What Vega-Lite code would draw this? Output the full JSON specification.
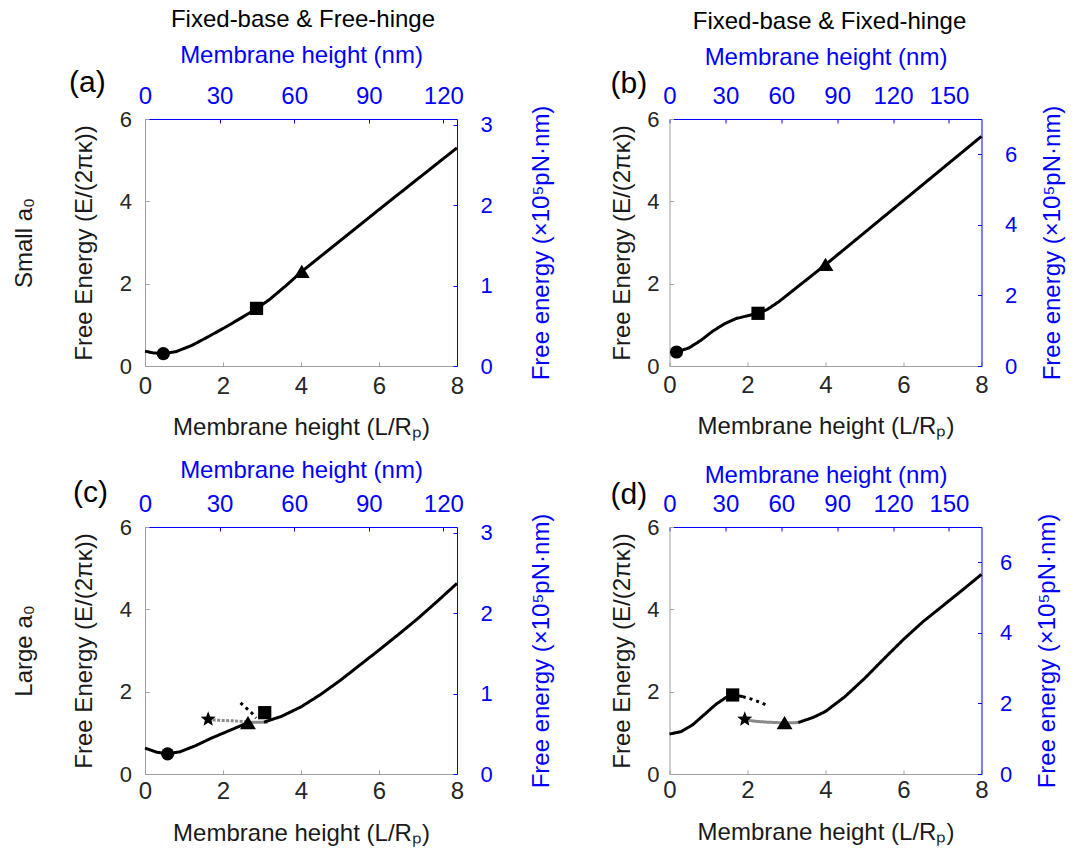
{
  "$schema": "https://vega.github.io/schema/vega-lite/v6.json",
  "padding": {"left": 12, "top": 8, "right": 2, "bottom": 2},
  "background": "white",
  "config": {
    "view": {"stroke": null},
    "font": "Liberation Sans",
    "axis": {"grid": false, "labelFont": "Liberation Sans", "titleFont": "Liberation Sans", "labelFlush": false, "labelOverlap": false, "titleFontWeight": "normal", "domainWidth": 1, "tickWidth": 1},
    "title": {"font": "Liberation Sans", "fontWeight": "normal", "color": "#000000"}
  },
  "datasets": {
    "curves": [
      {"panel":"a","seg":"a1","style":"solid","L":0,"E":0.36},
      {"panel":"a","seg":"a1","style":"solid","L":0.2,"E":0.32},
      {"panel":"a","seg":"a1","style":"solid","L":0.47,"E":0.30},
      {"panel":"a","seg":"a1","style":"solid","L":0.8,"E":0.35},
      {"panel":"a","seg":"a1","style":"solid","L":1.2,"E":0.50},
      {"panel":"a","seg":"a1","style":"solid","L":1.6,"E":0.70},
      {"panel":"a","seg":"a1","style":"solid","L":2.0,"E":0.91},
      {"panel":"a","seg":"a1","style":"solid","L":2.4,"E":1.13},
      {"panel":"a","seg":"a1","style":"solid","L":2.86,"E":1.39},
      {"panel":"a","seg":"a1","style":"solid","L":3.2,"E":1.62},
      {"panel":"a","seg":"a1","style":"solid","L":3.6,"E":1.94},
      {"panel":"a","seg":"a1","style":"solid","L":4.0,"E":2.28},
      {"panel":"a","seg":"a1","style":"solid","L":5.0,"E":3.04},
      {"panel":"a","seg":"a1","style":"solid","L":6.0,"E":3.80},
      {"panel":"a","seg":"a1","style":"solid","L":7.0,"E":4.55},
      {"panel":"a","seg":"a1","style":"solid","L":8.0,"E":5.30},
      {"panel":"b","seg":"b1","style":"solid","L":0.05,"E":0.35},
      {"panel":"b","seg":"b1","style":"solid","L":0.18,"E":0.34},
      {"panel":"b","seg":"b1","style":"solid","L":0.5,"E":0.44},
      {"panel":"b","seg":"b1","style":"solid","L":0.8,"E":0.62},
      {"panel":"b","seg":"b1","style":"solid","L":1.1,"E":0.84},
      {"panel":"b","seg":"b1","style":"solid","L":1.4,"E":1.02},
      {"panel":"b","seg":"b1","style":"solid","L":1.7,"E":1.15},
      {"panel":"b","seg":"b1","style":"solid","L":2.0,"E":1.22},
      {"panel":"b","seg":"b1","style":"solid","L":2.27,"E":1.28},
      {"panel":"b","seg":"b1","style":"solid","L":2.5,"E":1.37},
      {"panel":"b","seg":"b1","style":"solid","L":2.8,"E":1.56},
      {"panel":"b","seg":"b1","style":"solid","L":3.2,"E":1.86},
      {"panel":"b","seg":"b1","style":"solid","L":3.6,"E":2.16},
      {"panel":"b","seg":"b1","style":"solid","L":4.0,"E":2.46},
      {"panel":"b","seg":"b1","style":"solid","L":5.0,"E":3.24},
      {"panel":"b","seg":"b1","style":"solid","L":6.0,"E":4.02},
      {"panel":"b","seg":"b1","style":"solid","L":7.0,"E":4.80},
      {"panel":"b","seg":"b1","style":"solid","L":8.0,"E":5.58},
      {"panel":"c","seg":"c1","style":"solid","L":0,"E":0.63},
      {"panel":"c","seg":"c1","style":"solid","L":0.3,"E":0.53},
      {"panel":"c","seg":"c1","style":"solid","L":0.58,"E":0.49},
      {"panel":"c","seg":"c1","style":"solid","L":0.9,"E":0.54},
      {"panel":"c","seg":"c1","style":"solid","L":1.3,"E":0.69},
      {"panel":"c","seg":"c1","style":"solid","L":1.7,"E":0.87},
      {"panel":"c","seg":"c1","style":"solid","L":2.0,"E":0.99},
      {"panel":"c","seg":"c1","style":"solid","L":2.3,"E":1.11},
      {"panel":"c","seg":"c1","style":"solid","L":2.62,"E":1.24},
      {"panel":"c","seg":"c2","style":"graysolid","L":2.62,"E":1.25},
      {"panel":"c","seg":"c2","style":"graysolid","L":2.9,"E":1.26},
      {"panel":"c","seg":"c2","style":"graysolid","L":3.15,"E":1.26},
      {"panel":"c","seg":"c3","style":"solid","L":3.05,"E":1.26},
      {"panel":"c","seg":"c3","style":"solid","L":3.5,"E":1.40},
      {"panel":"c","seg":"c3","style":"solid","L":4.0,"E":1.63},
      {"panel":"c","seg":"c3","style":"solid","L":4.5,"E":1.93},
      {"panel":"c","seg":"c3","style":"solid","L":5.0,"E":2.27},
      {"panel":"c","seg":"c3","style":"solid","L":5.5,"E":2.64},
      {"panel":"c","seg":"c3","style":"solid","L":6.0,"E":3.01},
      {"panel":"c","seg":"c3","style":"solid","L":6.5,"E":3.39},
      {"panel":"c","seg":"c3","style":"solid","L":7.0,"E":3.78},
      {"panel":"c","seg":"c3","style":"solid","L":7.5,"E":4.20},
      {"panel":"c","seg":"c3","style":"solid","L":8.0,"E":4.63},
      {"panel":"c","seg":"c4","style":"graydot","L":1.62,"E":1.32},
      {"panel":"c","seg":"c4","style":"graydot","L":2.0,"E":1.30},
      {"panel":"c","seg":"c4","style":"graydot","L":2.3,"E":1.29},
      {"panel":"c","seg":"c4","style":"graydot","L":2.62,"E":1.27},
      {"panel":"c","seg":"c5","style":"blackdot","L":2.45,"E":1.73},
      {"panel":"c","seg":"c5","style":"blackdot","L":2.6,"E":1.60},
      {"panel":"c","seg":"c5","style":"blackdot","L":2.75,"E":1.47},
      {"panel":"c","seg":"c5","style":"blackdot","L":2.85,"E":1.36},
      {"panel":"d","seg":"d1","style":"solid","L":0,"E":0.97},
      {"panel":"d","seg":"d1","style":"solid","L":0.3,"E":1.03},
      {"panel":"d","seg":"d1","style":"solid","L":0.6,"E":1.20},
      {"panel":"d","seg":"d1","style":"solid","L":0.9,"E":1.45},
      {"panel":"d","seg":"d1","style":"solid","L":1.2,"E":1.70},
      {"panel":"d","seg":"d1","style":"solid","L":1.45,"E":1.86},
      {"panel":"d","seg":"d1","style":"solid","L":1.63,"E":1.92},
      {"panel":"d","seg":"d1","style":"solid","L":1.88,"E":1.88},
      {"panel":"d","seg":"d2","style":"blackdot","L":1.88,"E":1.88},
      {"panel":"d","seg":"d2","style":"blackdot","L":2.1,"E":1.82},
      {"panel":"d","seg":"d2","style":"blackdot","L":2.3,"E":1.75},
      {"panel":"d","seg":"d2","style":"blackdot","L":2.52,"E":1.66},
      {"panel":"d","seg":"d3","style":"graysolid","L":1.94,"E":1.32},
      {"panel":"d","seg":"d3","style":"graysolid","L":2.2,"E":1.28},
      {"panel":"d","seg":"d3","style":"graysolid","L":2.5,"E":1.26},
      {"panel":"d","seg":"d3","style":"graysolid","L":2.95,"E":1.24},
      {"panel":"d","seg":"d3","style":"graysolid","L":3.3,"E":1.25},
      {"panel":"d","seg":"d4","style":"solid","L":3.3,"E":1.25},
      {"panel":"d","seg":"d4","style":"solid","L":3.7,"E":1.38},
      {"panel":"d","seg":"d4","style":"solid","L":4.0,"E":1.52},
      {"panel":"d","seg":"d4","style":"solid","L":4.5,"E":1.88},
      {"panel":"d","seg":"d4","style":"solid","L":5.0,"E":2.32},
      {"panel":"d","seg":"d4","style":"solid","L":5.5,"E":2.80},
      {"panel":"d","seg":"d4","style":"solid","L":6.0,"E":3.27},
      {"panel":"d","seg":"d4","style":"solid","L":6.5,"E":3.70},
      {"panel":"d","seg":"d4","style":"solid","L":7.0,"E":4.08},
      {"panel":"d","seg":"d4","style":"solid","L":7.5,"E":4.46},
      {"panel":"d","seg":"d4","style":"solid","L":8.0,"E":4.85}
    ],
    "markers": [
      {"panel":"a","marker":"circle","L":0.47,"E":0.30},
      {"panel":"a","marker":"square","L":2.86,"E":1.40},
      {"panel":"a","marker":"triangle","L":4.02,"E":2.29},
      {"panel":"b","marker":"circle","L":0.18,"E":0.34},
      {"panel":"b","marker":"square","L":2.27,"E":1.28},
      {"panel":"b","marker":"triangle","L":4.0,"E":2.46},
      {"panel":"c","marker":"circle","L":0.58,"E":0.49},
      {"panel":"c","marker":"star","L":1.62,"E":1.33},
      {"panel":"c","marker":"triangle","L":2.64,"E":1.24},
      {"panel":"c","marker":"square","L":3.07,"E":1.49},
      {"panel":"d","marker":"square","L":1.62,"E":1.92},
      {"panel":"d","marker":"star","L":1.93,"E":1.33},
      {"panel":"d","marker":"triangle","L":2.95,"E":1.24}
    ]
  },
  "spacing": 524.5,
  "bounds": "flush",
  "hconcat": [
    {
      "title": {"text": "Fixed-base & Free-hinge", "fontSize": 24, "anchor": "middle", "frame": "group", "offset": 11.5, "dx": 158},
      "spacing": 161,
      "bounds": "flush",
      "vconcat": [
        {
          "width": 312, "height": 247,
          "title": {"text": "(a)", "fontSize": 30, "anchor": "start", "frame": "group", "dx": -76, "dy": 58},
          "layer": [
            {
              "encoding": {
                "x": {"field": "L", "type": "quantitative", "scale": {"domain": [0, 8], "nice": false},
                      "axis": {"orient": "bottom", "values": [0, 2, 4, 6, 8], "title": "Membrane height (L/Rₚ)", "titleFontSize": 24, "titleColor": "#1a1a1a", "labelFontSize": 24, "labelColor": "#262626", "domainColor": "#a0a0a0", "tickColor": "#a0a0a0", "tickSize": -4, "labelPadding": 12, "titlePadding": 17}},
                "y": {"field": "E", "type": "quantitative", "scale": {"domain": [0, 6], "nice": false},
                      "axis": {"orient": "left", "values": [0, 2, 4, 6], "title": ["Small a₀", "Free Energy (E/(2πκ))"], "titleLineHeight": 60, "titleFontSize": 24, "titleColor": "#1a1a1a", "labelFontSize": 22, "labelColor": "#262626", "domainColor": "#a0a0a0", "tickColor": "#a0a0a0", "tickSize": -4, "labelPadding": 17.5, "titlePadding": 23}}
              },
              "layer": [
                {"data": {"name": "curves"}, "transform": [{"filter": "datum.panel == 'a'"}],
                 "mark": {"type": "line", "strokeWidth": 3, "strokeCap": "butt", "strokeJoin": "round"},
                 "encoding": {
                   "color": {"field": "style", "type": "nominal", "scale": {"domain": ["solid", "graysolid", "graydot", "blackdot"], "range": ["#000000", "#8a8a8a", "#8a8a8a", "#000000"]}, "legend": null},
                   "strokeDash": {"field": "style", "type": "nominal", "scale": {"domain": ["solid", "graysolid", "graydot", "blackdot"], "range": [[1, 0], [1, 0], [3, 1.5], [3, 4]]}, "legend": null},
                   "detail": {"field": "seg", "type": "nominal"}
                 }},
                {"data": {"name": "markers"}, "transform": [{"filter": "datum.panel == 'a'"}],
                 "mark": {"type": "point", "filled": true, "opacity": 1, "color": "#000000", "size": 175},
                 "encoding": {
                   "shape": {"field": "marker", "type": "nominal", "scale": {"domain": ["circle", "square", "triangle", "star"], "range": ["circle", "square", "M0,-1.05L1.2,0.95L-1.2,0.95Z", "M0,-1.2L0.3,-0.42L1.14,-0.37L0.5,0.16L0.7,0.97L0,0.52L-0.7,0.97L-0.5,0.16L-1.14,-0.37L-0.3,-0.42Z"]}, "legend": null}
                 }}
              ]
            },
            {"data": {"values": [{}]}, "mark": {"type": "point", "opacity": 0},
             "encoding": {"x": {"datum": 0, "type": "quantitative", "scale": {"domain": [0, 125.5], "nice": false},
               "axis": {"orient": "top", "values": [0, 30, 60, 90, 120], "title": "Membrane height (nm)", "titleFontSize": 24, "titleColor": "#0000ff", "labelFontSize": 24, "labelColor": "#0000ff", "domainColor": "#0000ff", "tickColor": "#0000ff", "tickSize": -4, "labelPadding": 14.5, "titlePadding": 16.7}}}},
            {"data": {"values": [{}]}, "mark": {"type": "point", "opacity": 0},
             "encoding": {"y": {"datum": 0, "type": "quantitative", "scale": {"domain": [0, 3.07], "nice": false},
               "axis": {"orient": "right", "values": [0, 1, 2, 3], "title": "Free energy (×10⁵pN·nm)", "titleAngle": 270, "titleBaseline": "top", "titleFontSize": 24, "titleColor": "#0000ff", "labelFontSize": 22, "labelColor": "#0000ff", "domainColor": "#0000ff", "tickColor": "#0000ff", "tickSize": -4, "labelPadding": 27, "titlePadding": 37}}}}
          ],
          "resolve": {"scale": {"x": "independent", "y": "independent"}}
        },
        {
          "width": 312, "height": 247,
          "title": {"text": "(c)", "fontSize": 30, "anchor": "start", "frame": "group", "dx": -72, "dy": 53.6},
          "layer": [
            {
              "encoding": {
                "x": {"field": "L", "type": "quantitative", "scale": {"domain": [0, 8], "nice": false},
                      "axis": {"orient": "bottom", "values": [0, 2, 4, 6, 8], "title": "Membrane height (L/Rₚ)", "titleFontSize": 24, "titleColor": "#1a1a1a", "labelFontSize": 24, "labelColor": "#262626", "domainColor": "#a0a0a0", "tickColor": "#a0a0a0", "tickSize": -4, "labelPadding": 9, "titlePadding": 18}},
                "y": {"field": "E", "type": "quantitative", "scale": {"domain": [0, 6], "nice": false},
                      "axis": {"orient": "left", "values": [0, 2, 4, 6], "title": ["Large a₀", "Free Energy (E/(2πκ))"], "titleLineHeight": 60, "titleFontSize": 24, "titleColor": "#1a1a1a", "labelFontSize": 22, "labelColor": "#262626", "domainColor": "#a0a0a0", "tickColor": "#a0a0a0", "tickSize": -4, "labelPadding": 17.5, "titlePadding": 23}}
              },
              "layer": [
                {"data": {"name": "curves"}, "transform": [{"filter": "datum.panel == 'c'"}],
                 "mark": {"type": "line", "strokeWidth": 3, "strokeCap": "butt", "strokeJoin": "round"},
                 "encoding": {
                   "color": {"field": "style", "type": "nominal", "scale": {"domain": ["solid", "graysolid", "graydot", "blackdot"], "range": ["#000000", "#8a8a8a", "#8a8a8a", "#000000"]}, "legend": null},
                   "strokeDash": {"field": "style", "type": "nominal", "scale": {"domain": ["solid", "graysolid", "graydot", "blackdot"], "range": [[1, 0], [1, 0], [3, 1.5], [3, 4]]}, "legend": null},
                   "detail": {"field": "seg", "type": "nominal"}
                 }},
                {"data": {"name": "markers"}, "transform": [{"filter": "datum.panel == 'c'"}],
                 "mark": {"type": "point", "filled": true, "opacity": 1, "color": "#000000", "size": 175},
                 "encoding": {
                   "shape": {"field": "marker", "type": "nominal", "scale": {"domain": ["circle", "square", "triangle", "star"], "range": ["circle", "square", "M0,-1.05L1.2,0.95L-1.2,0.95Z", "M0,-1.2L0.3,-0.42L1.14,-0.37L0.5,0.16L0.7,0.97L0,0.52L-0.7,0.97L-0.5,0.16L-1.14,-0.37L-0.3,-0.42Z"]}, "legend": null}
                 }}
              ]
            },
            {"data": {"values": [{}]}, "mark": {"type": "point", "opacity": 0},
             "encoding": {"x": {"datum": 0, "type": "quantitative", "scale": {"domain": [0, 125.5], "nice": false},
               "axis": {"orient": "top", "values": [0, 30, 60, 90, 120], "title": "Membrane height (nm)", "titleFontSize": 24, "titleColor": "#0000ff", "labelFontSize": 24, "labelColor": "#0000ff", "domainColor": "#0000ff", "tickColor": "#0000ff", "tickSize": -4, "labelPadding": 14.5, "titlePadding": 10}}}},
            {"data": {"values": [{}]}, "mark": {"type": "point", "opacity": 0},
             "encoding": {"y": {"datum": 0, "type": "quantitative", "scale": {"domain": [0, 3.07], "nice": false},
               "axis": {"orient": "right", "values": [0, 1, 2, 3], "title": "Free energy (×10⁵pN·nm)", "titleAngle": 270, "titleBaseline": "top", "titleFontSize": 24, "titleColor": "#0000ff", "labelFontSize": 22, "labelColor": "#0000ff", "domainColor": "#0000ff", "tickColor": "#0000ff", "tickSize": -4, "labelPadding": 27, "titlePadding": 37}}}}
          ],
          "resolve": {"scale": {"x": "independent", "y": "independent"}}
        }
      ]
    },
    {
      "title": {"text": "Fixed-base & Fixed-hinge", "fontSize": 24, "anchor": "middle", "frame": "group", "offset": 11, "dx": 160},
      "spacing": 161,
      "bounds": "flush",
      "vconcat": [
        {
          "width": 312, "height": 247,
          "title": {"text": "(b)", "fontSize": 30, "anchor": "start", "frame": "group", "dx": -59, "dy": 58},
          "layer": [
            {
              "encoding": {
                "x": {"field": "L", "type": "quantitative", "scale": {"domain": [0, 8], "nice": false},
                      "axis": {"orient": "bottom", "values": [0, 2, 4, 6, 8], "title": "Membrane height (L/Rₚ)", "titleFontSize": 24, "titleColor": "#1a1a1a", "labelFontSize": 24, "labelColor": "#262626", "domainColor": "#a0a0a0", "tickColor": "#a0a0a0", "tickSize": -4, "labelPadding": 11, "titlePadding": 17}},
                "y": {"field": "E", "type": "quantitative", "scale": {"domain": [0, 6], "nice": false},
                      "axis": {"orient": "left", "values": [0, 2, 4, 6], "title": "Free Energy (E/(2πκ))", "titleFontSize": 24, "titleColor": "#1a1a1a", "labelFontSize": 22, "labelColor": "#262626", "domainColor": "#a0a0a0", "tickColor": "#a0a0a0", "tickSize": -4, "labelPadding": 14.5, "titlePadding": 12}}
              },
              "layer": [
                {"data": {"name": "curves"}, "transform": [{"filter": "datum.panel == 'b'"}],
                 "mark": {"type": "line", "strokeWidth": 3, "strokeCap": "butt", "strokeJoin": "round"},
                 "encoding": {
                   "color": {"field": "style", "type": "nominal", "scale": {"domain": ["solid", "graysolid", "graydot", "blackdot"], "range": ["#000000", "#8a8a8a", "#8a8a8a", "#000000"]}, "legend": null},
                   "strokeDash": {"field": "style", "type": "nominal", "scale": {"domain": ["solid", "graysolid", "graydot", "blackdot"], "range": [[1, 0], [1, 0], [3, 1.5], [3, 4]]}, "legend": null},
                   "detail": {"field": "seg", "type": "nominal"}
                 }},
                {"data": {"name": "markers"}, "transform": [{"filter": "datum.panel == 'b'"}],
                 "mark": {"type": "point", "filled": true, "opacity": 1, "color": "#000000", "size": 175},
                 "encoding": {
                   "shape": {"field": "marker", "type": "nominal", "scale": {"domain": ["circle", "square", "triangle", "star"], "range": ["circle", "square", "M0,-1.05L1.2,0.95L-1.2,0.95Z", "M0,-1.2L0.3,-0.42L1.14,-0.37L0.5,0.16L0.7,0.97L0,0.52L-0.7,0.97L-0.5,0.16L-1.14,-0.37L-0.3,-0.42Z"]}, "legend": null}
                 }}
              ]
            },
            {"data": {"values": [{}]}, "mark": {"type": "point", "opacity": 0},
             "encoding": {"x": {"datum": 0, "type": "quantitative", "scale": {"domain": [0, 167.5], "nice": false},
               "axis": {"orient": "top", "values": [0, 30, 60, 90, 120, 150], "title": "Membrane height (nm)", "titleFontSize": 24, "titleColor": "#0000ff", "labelFontSize": 24, "labelColor": "#0000ff", "domainColor": "#0000ff", "tickColor": "#0000ff", "tickSize": -4, "labelPadding": 14.5, "titlePadding": 15.5}}}},
            {"data": {"values": [{}]}, "mark": {"type": "point", "opacity": 0},
             "encoding": {"y": {"datum": 0, "type": "quantitative", "scale": {"domain": [0, 7], "nice": false},
               "axis": {"orient": "right", "values": [0, 2, 4, 6], "title": "Free energy (×10⁵pN·nm)", "titleAngle": 270, "titleBaseline": "top", "titleFontSize": 24, "titleColor": "#0000ff", "labelFontSize": 22, "labelColor": "#0000ff", "domainColor": "#0000ff", "tickColor": "#0000ff", "tickSize": -4, "labelPadding": 27, "titlePadding": 24}}}}
          ],
          "resolve": {"scale": {"x": "independent", "y": "independent"}}
        },
        {
          "width": 312, "height": 247,
          "title": {"text": "(d)", "fontSize": 30, "anchor": "start", "frame": "group", "dx": -59, "dy": 50},
          "layer": [
            {
              "encoding": {
                "x": {"field": "L", "type": "quantitative", "scale": {"domain": [0, 8], "nice": false},
                      "axis": {"orient": "bottom", "values": [0, 2, 4, 6, 8], "title": "Membrane height (L/Rₚ)", "titleFontSize": 24, "titleColor": "#1a1a1a", "labelFontSize": 24, "labelColor": "#262626", "domainColor": "#a0a0a0", "tickColor": "#a0a0a0", "tickSize": -4, "labelPadding": 8.5, "titlePadding": 17.5}},
                "y": {"field": "E", "type": "quantitative", "scale": {"domain": [0, 6], "nice": false},
                      "axis": {"orient": "left", "values": [0, 2, 4, 6], "title": "Free Energy (E/(2πκ))", "titleFontSize": 24, "titleColor": "#1a1a1a", "labelFontSize": 22, "labelColor": "#262626", "domainColor": "#a0a0a0", "tickColor": "#a0a0a0", "tickSize": -4, "labelPadding": 14.5, "titlePadding": 12}}
              },
              "layer": [
                {"data": {"name": "curves"}, "transform": [{"filter": "datum.panel == 'd'"}],
                 "mark": {"type": "line", "strokeWidth": 3, "strokeCap": "butt", "strokeJoin": "round"},
                 "encoding": {
                   "color": {"field": "style", "type": "nominal", "scale": {"domain": ["solid", "graysolid", "graydot", "blackdot"], "range": ["#000000", "#8a8a8a", "#8a8a8a", "#000000"]}, "legend": null},
                   "strokeDash": {"field": "style", "type": "nominal", "scale": {"domain": ["solid", "graysolid", "graydot", "blackdot"], "range": [[1, 0], [1, 0], [3, 1.5], [3, 4]]}, "legend": null},
                   "detail": {"field": "seg", "type": "nominal"}
                 }},
                {"data": {"name": "markers"}, "transform": [{"filter": "datum.panel == 'd'"}],
                 "mark": {"type": "point", "filled": true, "opacity": 1, "color": "#000000", "size": 175},
                 "encoding": {
                   "shape": {"field": "marker", "type": "nominal", "scale": {"domain": ["circle", "square", "triangle", "star"], "range": ["circle", "square", "M0,-1.05L1.2,0.95L-1.2,0.95Z", "M0,-1.2L0.3,-0.42L1.14,-0.37L0.5,0.16L0.7,0.97L0,0.52L-0.7,0.97L-0.5,0.16L-1.14,-0.37L-0.3,-0.42Z"]}, "legend": null}
                 }}
              ]
            },
            {"data": {"values": [{}]}, "mark": {"type": "point", "opacity": 0},
             "encoding": {"x": {"datum": 0, "type": "quantitative", "scale": {"domain": [0, 167.5], "nice": false},
               "axis": {"orient": "top", "values": [0, 30, 60, 90, 120, 150], "title": "Membrane height (nm)", "titleFontSize": 24, "titleColor": "#0000ff", "labelFontSize": 24, "labelColor": "#0000ff", "domainColor": "#0000ff", "tickColor": "#0000ff", "tickSize": -4, "labelPadding": 14.5, "titlePadding": 5}}}},
            {"data": {"values": [{}]}, "mark": {"type": "point", "opacity": 0},
             "encoding": {"y": {"datum": 0, "type": "quantitative", "scale": {"domain": [0, 7], "nice": false},
               "axis": {"orient": "right", "values": [0, 2, 4, 6], "title": "Free energy (×10⁵pN·nm)", "titleAngle": 270, "titleBaseline": "top", "titleFontSize": 24, "titleColor": "#0000ff", "labelFontSize": 22, "labelColor": "#0000ff", "domainColor": "#0000ff", "tickColor": "#0000ff", "tickSize": -4, "labelPadding": 22, "titlePadding": 24}}}}
          ],
          "resolve": {"scale": {"x": "independent", "y": "independent"}}
        }
      ]
    }
  ]
}
